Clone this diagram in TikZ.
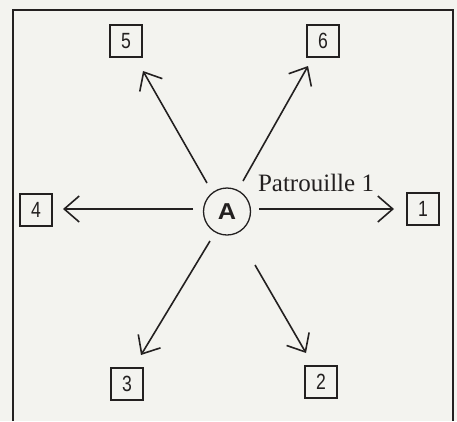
\documentclass[tikz,border=0pt]{standalone}
\usepackage{fontspec}
\setmainfont{Liberation Serif}
\newfontfamily\boxfont{Liberation Sans}
\usetikzlibrary{arrows.meta}
\definecolor{paper}{RGB}{243,243,239}
\definecolor{ink}{RGB}{35,32,32}
\newcommand{\nb}[1]{\scalebox{0.8}[1]{#1}}
\begin{document}
\begin{tikzpicture}[x=1pt,y=-1pt,
  numbox/.style={draw=ink, line width=1.5pt, minimum width=32pt, minimum height=32pt, inner sep=0pt, text=ink, font=\boxfont\fontsize{22}{22}\selectfont},
  ray/.style={draw=ink, line width=1.6pt, -{Straight Barb[length=15pt,width=26pt,line width=1.6pt]}}
]
\useasboundingbox (0,0) rectangle (457,421);
\fill[paper] (0,0) rectangle (457,421);
\draw[ink, line width=1.3pt] (13,421) -- (13,10) -- (453,10) -- (453,421);
\node[numbox] (b5) at (126,41) {\nb{5}};
\node[numbox] (b6) at (323,41) {\nb{6}};
\node[numbox] (b4) at (36,210) {\nb{4}};
\node[numbox] (b1) at (423,209) {\nb{1}};
\node[numbox] (b3) at (127,384) {\nb{3}};
\node[numbox] (b2) at (321,382) {\nb{2}};
\node[circle, draw=ink, line width=1.3pt, minimum size=47pt, inner sep=0pt, text=ink, font=\boxfont\bfseries\fontsize{23}{23}\selectfont] (A) at (227,211.5) {\scalebox{1.1}[1]{A}};
\node[text=ink, font=\fontsize{25}{25}\selectfont] (lab) at (316,183) {Patrouille 1};
\coordinate (s4) at (193,209); \coordinate (t4) at (63,209);
\coordinate (s1) at (259,209); \coordinate (t1) at (394,209);
\coordinate (s5) at (207,183); \coordinate (t5) at (143,71);
\coordinate (s6) at (243,181); \coordinate (t6) at (308,66);
\coordinate (s3) at (210,241); \coordinate (t3) at (141,355);
\coordinate (s2) at (255,265); \coordinate (t2) at (306,353);
\draw[ray] (s4) -- (t4);
\draw[ray] (s1) -- (t1);
\draw[ray] (s5) -- (t5);
\draw[ray] (s6) -- (t6);
\draw[ray] (s3) -- (t3);
\draw[ray] (s2) -- (t2);
\end{tikzpicture}
\end{document}
